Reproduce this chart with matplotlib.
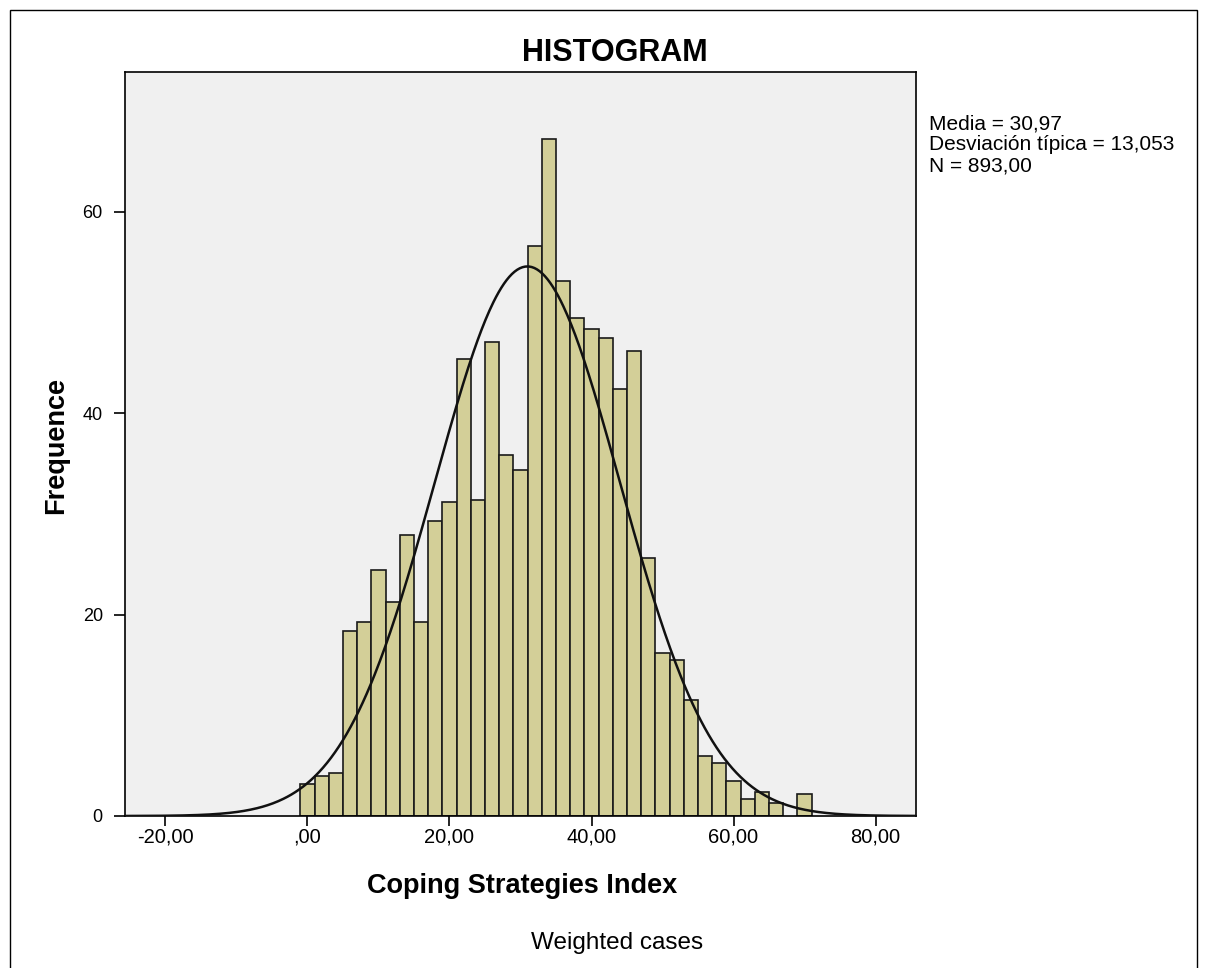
import numpy as np
import matplotlib
matplotlib.use("Agg")
import matplotlib.pyplot as plt
from matplotlib.patches import Rectangle

plt.rcParams['font.family'] = ['Liberation Sans', 'DejaVu Sans']

# Histogram bins (centres, width 2) and weighted frequencies
bin_centers = [0, 2, 4, 6, 8, 10, 12, 14, 16, 18, 20, 22, 24, 26, 28, 30, 32, 34,
               36, 38, 40, 42, 44, 46, 48, 50, 52, 54, 56, 58, 60, 62, 64, 66, 68, 70]
frequencies = [3.2, 4.0, 4.3, 18.4, 19.3, 24.4, 21.3, 27.9, 19.3, 29.3, 31.2, 45.4,
               31.4, 47.1, 35.9, 34.4, 56.6, 67.2, 53.1, 49.5, 48.4, 47.5, 42.4, 46.2,
               25.6, 16.2, 15.5, 11.5, 6.0, 5.3, 3.5, 1.7, 2.4, 1.3, 0.0, 2.2]
bin_width = 2.0

mean_val = 30.97
std_val = 13.053
n_val = 893.00

x_ticks = [-20, 0, 20, 40, 60, 80]
x_ticklabels = ["-20,00", ",00", "20,00", "40,00", "60,00", "80,00"]
y_ticks = [0, 20, 40, 60]

W, H = 1208, 968
fig = plt.figure(figsize=(W / 100, H / 100), dpi=100)
fig.patch.set_facecolor("white")

# outer frame
fig.patches.append(Rectangle((10 / W, -0.01), 1187 / W, 1 - 10 / H + 0.01,
                             transform=fig.transFigure, fill=False,
                             edgecolor="black", linewidth=1.0))

ax = fig.add_axes([125 / W, 1 - 816 / H, (916 - 125) / W, (816 - 72) / H])
ax.set_facecolor("#F0F0F0")

centers = np.array(bin_centers, dtype=float)
heights = np.array(frequencies, dtype=float)
mask = heights > 0
ax.bar(centers[mask], heights[mask], width=bin_width, color="#D3CF98",
       edgecolor="#1a1a1a", linewidth=1.2, zorder=2)

# fitted normal curve scaled to counts
xs = np.linspace(-25.7, 85.7, 600)
ys = n_val * bin_width / (std_val * np.sqrt(2 * np.pi)) * np.exp(-0.5 * ((xs - mean_val) / std_val) ** 2)
ax.plot(xs, ys, color="#111111", linewidth=1.8, zorder=3)

ax.set_xlim(-25.7, 85.7)
ax.set_ylim(0, 73.9)
ax.set_xticks(x_ticks)
ax.set_xticklabels(x_ticklabels)
ax.set_yticks(y_ticks)
ax.tick_params(axis="x", direction="out", length=7.5, width=1.2, labelsize=14.5,
               colors="black", pad=1)
ax.tick_params(axis="y", direction="out", length=8, width=1.2, labelsize=13,
               colors="black", pad=8)
for sp in ax.spines.values():
    sp.set_linewidth(1.2)
    sp.set_color("black")

fig.text(522 / W, 1 - 886 / H, "Coping Strategies Index", fontsize=19.5,
         fontweight="bold", ha="center", va="center")
fig.text(56 / W, 1 - 445 / H, "Frequence", fontsize=19.5, fontweight="bold",
         ha="center", va="center", rotation=90)

fig.text(615 / W, 1 - 53 / H, "HISTOGRAM", fontsize=22, fontweight="bold",
         ha="center", va="center")
fig.text(617 / W, 1 - 943 / H, "Weighted cases", fontsize=17.5, ha="center", va="center")

stats = "Media = 30,97\nDesviación típica = 13,053\nN = 893,00"
fig.text(929 / W, 1 - 115 / H, stats, fontsize=15, ha="left", va="top", linespacing=1.1)

fig.savefig("out.png", dpi=100)
